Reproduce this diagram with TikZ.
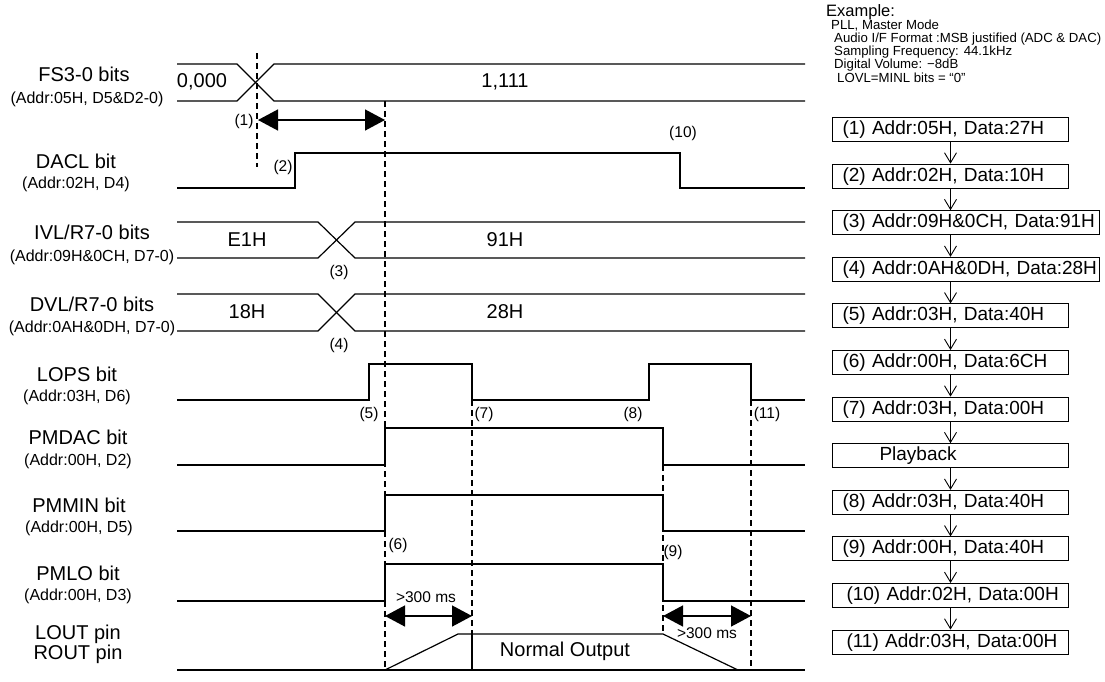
\documentclass[tikz,border=0pt]{standalone}
\usepackage{fontspec}
\setmainfont{Liberation Sans}
\usepackage{tikz}
\usetikzlibrary{arrows.meta, positioning}
\tikzset{
  wave/.style={line width=1.2pt, line join=miter},
  guide/.style={line width=1.1pt, dash pattern=on 6pt off 4pt},
  gaparrow/.style={{Triangle[length=20pt,width=21pt]}-{Triangle[length=20pt,width=21pt]},
    line width=1.4pt},
  signame/.style={font=\fontsize{20}{24}\selectfont, inner sep=0pt},
  sigaddr/.style={font=\fontsize{16}{19}\selectfont, inner sep=0pt},
  sigval/.style={font=\fontsize{20}{24}\selectfont, inner sep=0pt},
  evlabel/.style={font=\fontsize{15.5}{18}\selectfont, inner sep=0pt},
  notetext/.style={anchor=west, inner sep=0pt, font=\fontsize{13.2}{15}\selectfont},
  stepbox/.style={rectangle, draw, line width=1pt, text width=236pt, align=left,
    inner xsep=0pt, inner ysep=0pt, minimum height=24pt, font=\fontsize{19}{22}\selectfont,
    execute at begin node={\hspace*{10pt}}},
  widebox/.style={stepbox, text width=267pt},
  steparrow/.style={-{Straight Barb[length=10pt,width=12pt]}, line width=0.9pt}
}

\begin{document}
\begin{tikzpicture}[x=1pt, y=-1pt]
  \useasboundingbox (0,0) rectangle (1105,681);
  % Signal names
  \node[signame] (fsname) at (84,74) {FS3-0 bits};
  \node[sigaddr] (fsaddr) at (87,99) {(Addr:05H, D5\&D2-0)};
  \node[signame] (daclname) at (76,161) {DACL bit};
  \node[sigaddr] (dacladdr) at (76,184) {(Addr:02H, D4)};
  \node[signame] (ivlname) at (92,232) {IVL/R7-0 bits};
  \node[sigaddr] (ivladdr) at (92,257) {(Addr:09H\&0CH, D7-0)};
  \node[signame] (dvlname) at (92,304) {DVL/R7-0 bits};
  \node[sigaddr] (dvladdr) at (92,328) {(Addr:0AH\&0DH, D7-0)};
  \node[signame] (lopsname) at (77,374) {LOPS bit};
  \node[sigaddr] (lopsaddr) at (77,397) {(Addr:03H, D6)};
  \node[signame] (pmdacname) at (78,437) {PMDAC bit};
  \node[sigaddr] (pmdacaddr) at (78,461) {(Addr:00H, D2)};
  \node[signame] (pmminname) at (79,505) {PMMIN bit};
  \node[sigaddr] (pmminaddr) at (79,528) {(Addr:00H, D5)};
  \node[signame] (pmloname) at (78,573) {PMLO bit};
  \node[sigaddr] (pmloaddr) at (78,596) {(Addr:00H, D3)};
  \node[signame] (loutname) at (78,634) {LOUT pin};
  \node[signame] (routname) at (78,654) {ROUT pin};
  % Guides
  \draw[guide] (257,53) -- (257,167);
  \draw[guide] (385,101) -- (385,670);
  \draw[guide] (472,400) -- (472,634);
  \draw[guide] (663,465) -- (663,634);
  \draw[guide] (751,400) -- (751,670);
  % FS3-0
  \draw[wave] (177,64) -- (237,64) -- (274,101) -- (805,101);
  \draw[wave] (177,101) -- (237,101) -- (274,64) -- (805,64);
  \node[sigval] (fsold) at (202,82) {0,000};
  \node[sigval] (fsnew) at (505,82) {1,111};
  % DACL
  \draw[wave] (177,188) -- (295,188) -- (295,153) -- (680,153) -- (680,188) -- (805,188);
  % IVL
  \draw[wave] (177,222) -- (318,222) -- (355,258) -- (805,258);
  \draw[wave] (177,258) -- (318,258) -- (355,222) -- (805,222);
  \node[sigval] (ivlold) at (247,240) {E1H};
  \node[sigval] (ivlnew) at (505,240) {91H};
  % DVL
  \draw[wave] (177,294) -- (318,294) -- (355,331) -- (805,331);
  \draw[wave] (177,331) -- (318,331) -- (355,294) -- (805,294);
  \node[sigval] (dvlold) at (247,312) {18H};
  \node[sigval] (dvlnew) at (505,312) {28H};
  % LOPS
  \draw[wave] (177,400) -- (369,400) -- (369,364) -- (472,364) -- (472,400) -- (649,400)
    -- (649,364) -- (751,364) -- (751,400) -- (805,400);
  % PMDAC, PMMIN, PMLO
  \draw[wave] (177,465) -- (385,465) -- (385,428) -- (663,428) -- (663,465) -- (805,465);
  \draw[wave] (177,531) -- (385,531) -- (385,495) -- (663,495) -- (663,531) -- (805,531);
  \draw[wave] (177,601) -- (385,601) -- (385,564) -- (663,564) -- (663,601) -- (805,601);
  % LOUT / ROUT
  \draw[wave] (177,670) -- (805,670);
  \draw[wave] (385,670) -- (458,634) -- (663,634) -- (738,670);
  \draw[wave] (472,634) -- (472,670);
  \node[sigval] (normal) at (565,651) {Normal Output};
  % Timing gaps
  \draw[gaparrow] (258,120) -- (385,120);
  \draw[gaparrow] (385,616) -- (472,616);
  \draw[gaparrow] (663,616) -- (751,616);
  \node[evlabel] (gapa) at (426,597) {>300 ms};
  \node[evlabel] (gapb) at (707,633) {>300 ms};
  % Step markers
  \node[evlabel] (m1) at (244,121) {(1)};
  \node[evlabel] (m2) at (283,167) {(2)};
  \node[evlabel] (m3) at (339,272) {(3)};
  \node[evlabel] (m4) at (339,345) {(4)};
  \node[evlabel] (m5) at (369,414) {(5)};
  \node[evlabel] (m6) at (398,545) {(6)};
  \node[evlabel] (m7) at (484,414) {(7)};
  \node[evlabel] (m8) at (633,414) {(8)};
  \node[evlabel] (m9) at (673,552) {(9)};
  \node[evlabel] (m10) at (683,133) {(10)};
  \node[evlabel] (m11) at (767,414) {(11)};
  % Example settings
  \node[notetext, font=\fontsize{16.5}{19}\selectfont] (extitle) at (826,12) {Example:};
  \node[notetext] (exa) at (831,26) {PLL, Master Mode};
  \node[notetext] (exb) at (834,39) {Audio I/F Format :MSB justified (ADC \& DAC)};
  \node[notetext] (exc) at (834,52) {Sampling Frequency: 44.1kHz};
  \node[notetext] (exd) at (834,65) {Digital Volume: −8dB};
  \node[notetext] (exe) at (837,78) {LOVL=MINL bits = “0”};
  % Register sequence
  \node[stepbox, anchor=north west] (b1) at (832,117) {(1) Addr:05H, Data:27H};
  \node[stepbox, below=21.6pt of b1.south west, anchor=north west] (b2) {(2) Addr:02H, Data:10H};
  \node[widebox, below=21.6pt of b2.south west, anchor=north west] (b3) {(3) Addr:09H\&0CH, Data:91H};
  \node[widebox, below=21.6pt of b3.south west, anchor=north west] (b4) {(4) Addr:0AH\&0DH, Data:28H};
  \node[stepbox, below=21.6pt of b4.south west, anchor=north west] (b5) {(5) Addr:03H, Data:40H};
  \node[stepbox, below=21.6pt of b5.south west, anchor=north west] (b6) {(6) Addr:00H, Data:6CH};
  \node[stepbox, below=21.6pt of b6.south west, anchor=north west] (b7) {(7) Addr:03H, Data:00H};
  \node[stepbox, below=21.6pt of b7.south west, anchor=north west] (bplay) {\hspace*{37pt}Playback};
  \node[stepbox, below=21.6pt of bplay.south west, anchor=north west] (b8) {(8) Addr:03H, Data:40H};
  \node[stepbox, below=21.6pt of b8.south west, anchor=north west] (b9) {(9) Addr:00H, Data:40H};
  \node[stepbox, below=21.6pt of b9.south west, anchor=north west] (b10) {\hspace*{4pt}(10) Addr:02H, Data:00H};
  \node[stepbox, below=21.6pt of b10.south west, anchor=north west] (b11) {\hspace*{4pt}(11) Addr:03H, Data:00H};
  % Sequence arrows
  \draw[steparrow] (b1) -- (b2);
  \draw[steparrow] (b2.south) -- (b2.south |- b3.north);
  \draw[steparrow] (b3.south -| b2.south) -- (b4.north -| b2.south);
  \draw[steparrow] (b4.south -| b5.north) -- (b5.north);
  \draw[steparrow] (b5) -- (b6);
  \draw[steparrow] (b6) -- (b7);
  \draw[steparrow] (b7) -- (bplay);
  \draw[steparrow] (bplay) -- (b8);
  \draw[steparrow] (b8) -- (b9);
  \draw[steparrow] (b9) -- (b10);
  \draw[steparrow] (b10) -- (b11);
\end{tikzpicture}
\end{document}
